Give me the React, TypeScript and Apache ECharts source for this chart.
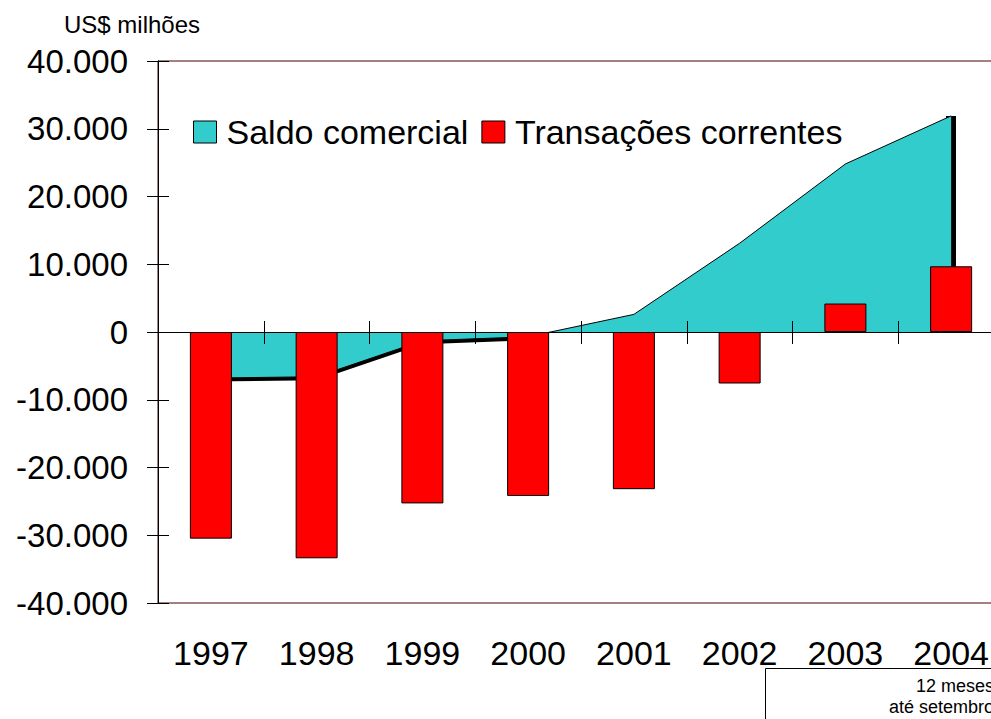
import React, { useEffect, useRef } from "react";
import * as echarts from "echarts";

const years = ["1997", "1998", "1999", "2000", "2001", "2002", "2003", "2004"];
const saldoComercial = [-6800, -6600, -1300, -700, 2600, 13100, 24800, 31900];
const transacoesCorrentes = [-30500, -33400, -25300, -24200, -23200, -7600, 4200, 9700];
const yTicks = { min: -40000, max: 40000, interval: 10000 };

const FONT = "'Liberation Sans', Arial, sans-serif";
const TEAL = "#33CCCC";
const RED = "#FF0000";
const BORDER = "#4a0000";

const fmt = (v: number) => {
  const s = Math.abs(v).toString().replace(/\B(?=(\d{3})+(?!\d))/g, ".");
  return (v < 0 ? "-" : "") + s;
};

export default function App() {
  const ref = useRef<HTMLDivElement>(null);
  useEffect(() => {
    if (!ref.current) return;
    const chart = echarts.init(ref.current, undefined, { renderer: "svg" });
    const negPart = saldoComercial.map((v) => (v < 0 ? v : null));
    const last = years.length - 1;
    const option: any = {
      animation: false,
      backgroundColor: "#fff",
      textStyle: { fontFamily: FONT },
      title: {
        text: "US$ milhões",
        left: 64,
        top: 12,
        textStyle: { fontFamily: FONT, fontSize: 24, fontWeight: "normal", color: "#000" },
        padding: 0,
      },
      legend: {
        left: 193,
        top: 115,
        padding: 0,
        icon: "rect",
        itemWidth: 23,
        itemHeight: 22,
        itemGap: 13,
        textStyle: { fontFamily: FONT, fontSize: 34, color: "#000", padding: [0, 0, 0, 5] },
        data: [
          { name: "Saldo comercial", itemStyle: { color: TEAL, borderColor: "#000", borderWidth: 1 } },
          { name: "Transações correntes", itemStyle: { color: RED, borderColor: "#000", borderWidth: 1 } },
        ],
      },
      grid: {
        left: 158,
        top: 61,
        width: 846,
        height: 542,
        outerBoundsMode: "none",
        containLabel: false,
        show: true,
        borderColor: BORDER,
        borderWidth: 1,
        backgroundColor: "transparent",
      },
      xAxis: [
        {
          type: "category",
          data: years,
          position: "bottom",
          z: 10,
          axisLine: { show: true, onZero: true, onZeroAxisIndex: 0, lineStyle: { color: "#000", width: 1 } },
          axisTick: { show: true, inside: false, length: 12, lineStyle: { color: "#000" } },
          axisLabel: { show: false },
          splitLine: { show: false },
        },
        {
          type: "category",
          data: years,
          position: "top",
          z: 10,
          axisLine: { show: true, onZero: true, onZeroAxisIndex: 0, lineStyle: { color: "#000", width: 1 } },
          axisTick: { show: true, inside: false, length: 11, lineStyle: { color: "#000" } },
          axisLabel: { show: false },
          splitLine: { show: false },
        },
        {
          type: "category",
          data: years,
          position: "bottom",
          axisLine: { show: false, onZero: false },
          axisTick: { show: false },
          axisLabel: { show: true, fontFamily: FONT, fontSize: 34, color: "#000", margin: 33 },
          splitLine: { show: false },
        },
      ],
      yAxis: [
        {
          type: "value",
          position: "left",
          ...yTicks,
          z: 10,
          axisLine: { show: true, lineStyle: { color: "#000", width: 1 } },
          axisTick: { show: true, inside: false, length: 11, lineStyle: { color: "#000" } },
          axisLabel: { show: true, fontFamily: FONT, fontSize: 33, color: "#000", margin: 30, formatter: fmt },
          splitLine: { show: false },
        },
        {
          type: "value",
          position: "left",
          ...yTicks,
          z: 10,
          axisLine: { show: true, lineStyle: { color: "#000", width: 1 } },
          axisTick: { show: true, inside: true, length: 11, lineStyle: { color: "#000" } },
          axisLabel: { show: false },
          splitLine: { show: false },
        },
      ],
      series: [
        {
          name: "shadow",
          type: "line",
          xAxisIndex: 0,
          yAxisIndex: 0,
          z: 1,
          data: negPart,
          showSymbol: false,
          silent: true,
          lineStyle: { color: "#000", width: 7 },
          itemStyle: { color: "#000" },
          markLine: {
            z: 1,
            silent: true,
            symbol: "none",
            label: { show: false },
            lineStyle: { color: "#000", width: 10, type: "solid" },
            data: [[{ coord: [last, saldoComercial[last]] }, { coord: [last, 0] }]],
          },
        },
        {
          name: "Saldo comercial",
          type: "line",
          xAxisIndex: 0,
          yAxisIndex: 0,
          z: 2,
          data: saldoComercial,
          showSymbol: false,
          lineStyle: { color: "#000", width: 1 },
          itemStyle: { color: TEAL },
          areaStyle: { color: TEAL, opacity: 1 },
        },
        {
          name: "Transações correntes",
          type: "bar",
          xAxisIndex: 0,
          yAxisIndex: 0,
          z: 3,
          barWidth: 42,
          data: transacoesCorrentes,
          itemStyle: { color: RED, borderColor: "#000", borderWidth: 1 },
        },
      ],
      graphic: [
        {
          type: "rect",
          shape: { x: 765.5, y: 668.5, width: 400, height: 100 },
          style: { fill: "none", stroke: "#000", lineWidth: 1 },
          silent: true,
        },
        {
          type: "text",
          x: 994,
          y: 686,
          style: {
            text: "12 meses",
            fill: "#000",
            font: `18px ${FONT}`,
            textAlign: "right",
            textVerticalAlign: "middle",
          },
        },
        {
          type: "text",
          x: 994,
          y: 707,
          style: {
            text: "até setembro",
            fill: "#000",
            font: `18px ${FONT}`,
            textAlign: "right",
            textVerticalAlign: "middle",
          },
        },
      ],
    };
    chart.setOption(option);
    return () => chart.dispose();
  }, []);
  return (
    <div
      ref={ref}
      style={{ position: "fixed", left: 0, top: 0, width: 991, height: 719, background: "#fff" }}
    />
  );
}
